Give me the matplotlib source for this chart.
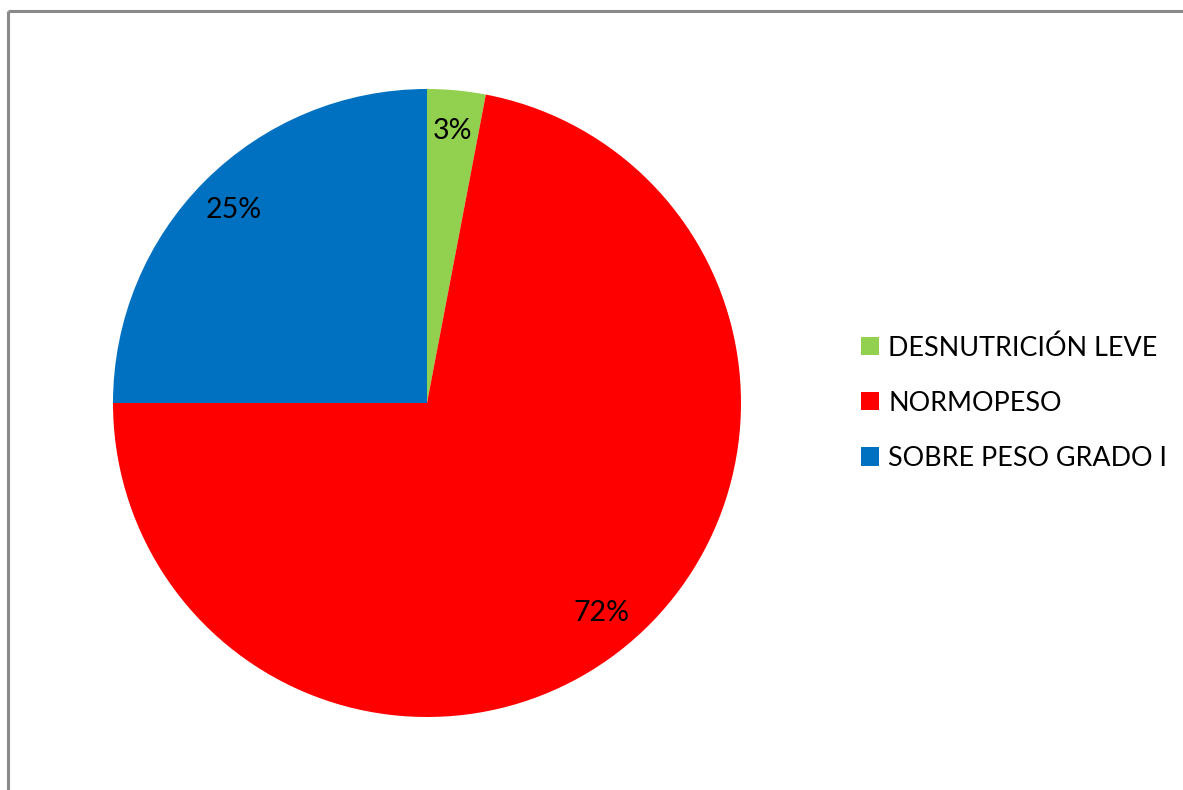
import matplotlib
matplotlib.use("Agg")
import matplotlib.pyplot as plt
from matplotlib.lines import Line2D

categories = ["DESNUTRICIÓN LEVE", "NORMOPESO", "SOBRE PESO GRADO I"]
percentages = [3, 72, 25]
colors = ["#92D050", "#FF0000", "#0070C0"]

W, H = 1183, 790
fig = plt.figure(figsize=(W / 100, H / 100), dpi=100)
fig.patch.set_facecolor("white")

# pie axes: centre (427, 403) px from top-left, radius 314 px
cx, cy, r = 427, 403, 314
ax = fig.add_axes([(cx - r) / W, (H - cy - r) / H, 2 * r / W, 2 * r / H])
wedges, texts, autotexts = ax.pie(
    percentages,
    colors=colors,
    startangle=90,
    counterclock=False,
    autopct=lambda p: f"{p:.0f}%",
    pctdistance=0.87,
    textprops=dict(fontsize=20.5, family="Lato", color="black"),
    wedgeprops=dict(linewidth=0),
)
ax.set_xlim(-1, 1)
ax.set_ylim(-1, 1)
ax.set_aspect("equal")
ax.axis("off")

leg = fig.legend(
    wedges,
    categories,
    loc="center left",
    bbox_to_anchor=(837 / W, 1 - 403 / H),
    frameon=False,
    prop=dict(family="Lato", size=19.4),
    handlelength=0.67,
    handleheight=0.67,
    handletextpad=0.33,
    labelspacing=1.12,
)

# chart frame (left and top edges visible)
edge = "#8a8a8a"
fig.add_artist(Line2D([7.5 / W, 7.5 / W], [0, 1 - 10.5 / H], color=edge, lw=2.2,
                      transform=fig.transFigure, solid_capstyle="butt"))
fig.add_artist(Line2D([7.5 / W, 1], [1 - 10.5 / H, 1 - 10.5 / H], color=edge, lw=2.2,
                      transform=fig.transFigure, solid_capstyle="butt"))

fig.savefig("out.png", dpi=100)
